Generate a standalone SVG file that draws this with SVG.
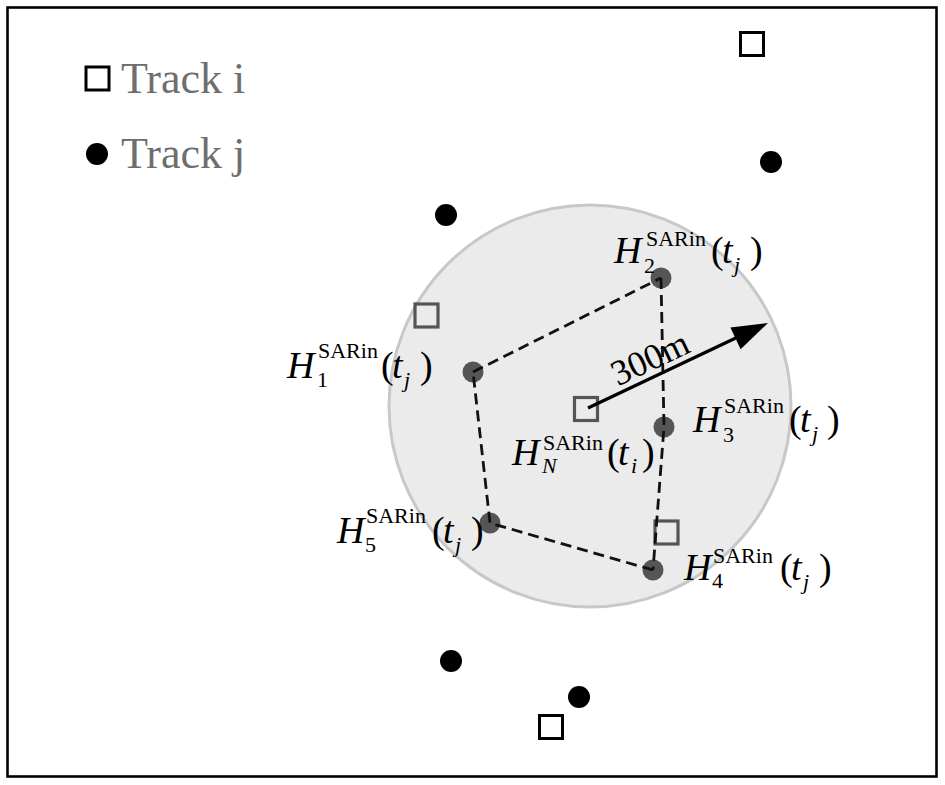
<svg xmlns="http://www.w3.org/2000/svg" width="945" height="785" viewBox="0 0 945 785">
<style>
.sqi{fill:none;stroke:#000;stroke-width:3}
.sqg{fill:none;stroke:#555;stroke-width:3.2}
.dj{fill:#000}
.dg{fill:#555}
.dash{fill:none;stroke:#111;stroke-width:2.8;stroke-dasharray:11,6}
.leg{font-family:"Liberation Serif",serif;font-size:44px;fill:#6e6e6e}
.H{font-family:"Liberation Serif",serif;font-size:38px;font-style:italic;fill:#000}
.r{font-family:"Liberation Serif",serif;font-size:38px;fill:#000}
.sup{font-family:"Liberation Serif",serif;font-size:22px;fill:#000}
.subi{font-family:"Liberation Serif",serif;font-size:22px;font-style:italic;fill:#000}
.dist{font-family:"Liberation Serif",serif;font-size:36px;fill:#000}
</style>
<rect x="0" y="0" width="945" height="785" fill="#fff"/>
<rect id="frame" x="7.5" y="7.5" width="929" height="769" fill="none" stroke="#000" stroke-width="2.6"/>
<g id="region"><circle cx="590" cy="406" r="201" fill="#ebebeb" stroke="#c8c8c8" stroke-width="3"/></g>
<g id="legend">
<rect class="sqi" x="86" y="67" width="23" height="23"/>
<text class="leg" x="121" y="93">Track i</text>
<circle class="dj" cx="97" cy="154" r="11"/>
<text class="leg" x="121" y="168">Track j</text>
</g>
<g id="tracki">
<rect class="sqi" x="740.5" y="32.5" width="23" height="23"/>
<rect class="sqi" x="539.5" y="715.5" width="23" height="23"/>
<rect class="sqg" x="415" y="304" width="23" height="23"/>
<rect class="sqg" x="655" y="521" width="23" height="23"/>
</g>
<g id="trackj">
<circle class="dj" cx="446" cy="215" r="11"/>
<circle class="dj" cx="771" cy="162" r="11"/>
<circle class="dj" cx="451" cy="661" r="11"/>
<circle class="dj" cx="579" cy="697" r="11"/>
</g>
<g id="nodeN"><rect class="sqg" x="574.5" y="397.5" width="23" height="23"/></g>
<g id="node1"><circle class="dg" cx="473" cy="372" r="10.5"/></g>
<g id="node2"><circle class="dg" cx="661" cy="278" r="10.5"/></g>
<g id="node3"><circle class="dg" cx="664" cy="427" r="10.5"/></g>
<g id="node4"><circle class="dg" cx="653" cy="570" r="10.5"/></g>
<g id="node5"><circle class="dg" cx="490" cy="523" r="10.5"/></g>
<g id="connectors">
<polyline class="dash" points="473,372 661,278"/>
<polyline class="dash" points="661,278 664,427 653,570"/>
<polyline class="dash" points="653,570 490,523 473,372"/>
<line x1="588" y1="408" x2="740" y2="336" stroke="#000" stroke-width="3.2"/>
<polygon points="768,323 740.6,349.2 730.4,327.6" fill="#000"/>
</g>
<g id="labels">
<text class="dist" transform="translate(655,369) rotate(-25.3)" text-anchor="middle">300m</text>
<g id="lab1">
<text class="H" x="287" y="378">H</text><text class="sup" x="318" y="358">SARin</text><text class="sup" x="317" y="387">1</text>
<text class="r" x="381" y="378">(</text><text class="H" x="392" y="378">t</text><text class="subi" x="404" y="387">j</text><text class="r" x="420" y="378">)</text>
</g>
<g id="lab2">
<text class="H" x="614" y="263">H</text><text class="sup" x="646" y="246">SARin</text><text class="sup" x="644" y="273">2</text>
<text class="r" x="711" y="263">(</text><text class="H" x="722" y="263">t</text><text class="subi" x="734" y="272">j</text><text class="r" x="750" y="263">)</text>
</g>
<g id="lab3">
<text class="H" x="693" y="432">H</text><text class="sup" x="724" y="413">SARin</text><text class="sup" x="723" y="442">3</text>
<text class="r" x="789" y="432">(</text><text class="H" x="800" y="432">t</text><text class="subi" x="812" y="441">j</text><text class="r" x="827" y="432">)</text>
</g>
<g id="labN">
<text class="H" x="512" y="465">H</text><text class="sup" x="543" y="450">SARin</text><text class="subi" x="542" y="473">N</text>
<text class="r" x="607" y="465">(</text><text class="H" x="618" y="465">t</text><text class="subi" x="631" y="473">i</text><text class="r" x="642" y="465">)</text>
</g>
<g id="lab4">
<text class="H" x="684" y="580">H</text><text class="sup" x="713" y="563">SARin</text><text class="sup" x="712" y="588">4</text>
<text class="r" x="780" y="580">(</text><text class="H" x="791" y="580">t</text><text class="subi" x="803" y="589">j</text><text class="r" x="819" y="580">)</text>
</g>
<g id="lab5">
<text class="H" x="337" y="543">H</text><text class="sup" x="366" y="523">SARin</text><text class="sup" x="365" y="552">5</text>
<text class="r" x="432" y="543">(</text><text class="H" x="443" y="543">t</text><text class="subi" x="455" y="552">j</text><text class="r" x="471" y="543">)</text>
</g>
</g>
</svg>
